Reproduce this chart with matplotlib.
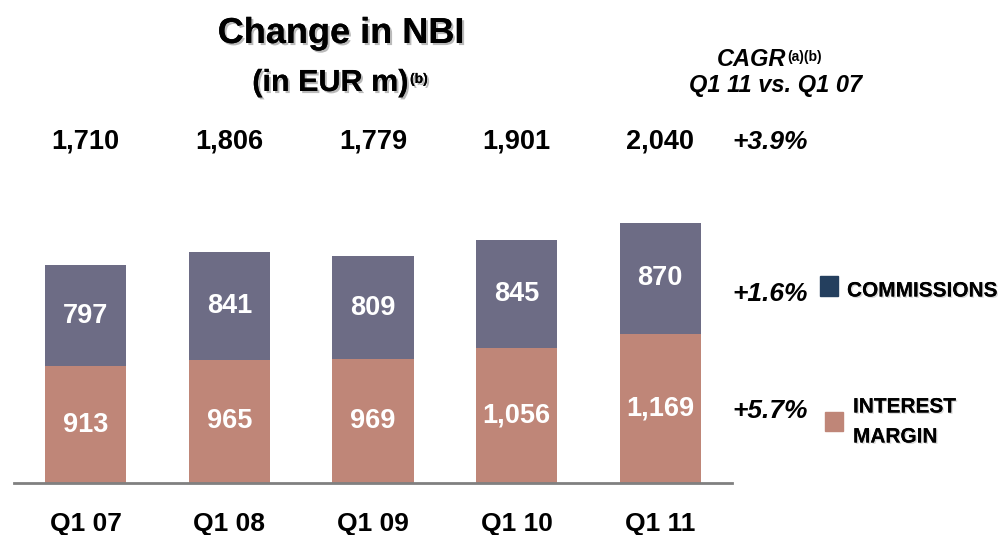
import matplotlib
matplotlib.use("Agg")
import matplotlib.pyplot as plt
import matplotlib.patheffects as pe
from matplotlib.patches import Rectangle

periods = ["Q1 07", "Q1 08", "Q1 09", "Q1 10", "Q1 11"]
interest_margin = [913, 965, 969, 1056, 1169]
commissions = [797, 841, 809, 845, 870]
totals = [1710, 1806, 1779, 1901, 2040]
cagr_total = "+3.9%"
cagr_commissions = "+1.6%"
cagr_interest = "+5.7%"

c_comm = "#6d6c85"
c_int = "#bf8678"
c_comm_legend = "#243f5e"

plt.rcParams["font.family"] = ["Liberation Sans", "DejaVu Sans"]
W, H = 1004, 535
fig = plt.figure(figsize=(W / 100, H / 100), dpi=100)


def fx(x):
    return x / W


def fy(y):
    return 1 - y / H


shadow = [pe.withSimplePatchShadow(offset=(1.5, -1.5), shadow_rgbFace="#777777", alpha=0.5), pe.Normal()]
soft = [pe.withSimplePatchShadow(offset=(1, -1), shadow_rgbFace="#888888", alpha=0.3), pe.Normal()]

# axes: baseline at y=483px, spans x 14..732px
ax = fig.add_axes([fx(14), fy(483), fx(732 - 14), (483 - 100) / H])
ax.set_xlim(-0.5, 4.5)
ax.set_ylim(0, 3000)
for s in ["top", "right", "left"]:
    ax.spines[s].set_visible(False)
ax.spines["bottom"].set_color("#808080")
ax.spines["bottom"].set_linewidth(2)
ax.set_yticks([])

x = range(len(periods))
ax.bar(x, interest_margin, width=0.565, color=c_int)
ax.bar(x, commissions, width=0.565, bottom=interest_margin, color=c_comm)

ax.set_xticks(list(x))
ax.set_xticklabels(periods, fontsize=19, fontweight="bold")
ax.tick_params(axis="x", length=0, pad=21)

for i in x:
    ax.text(i, interest_margin[i] / 2, f"{interest_margin[i]:,}", ha="center", va="center",
            fontsize=19.5, fontweight="bold", color="white")
    ax.text(i, interest_margin[i] + commissions[i] / 2, f"{commissions[i]:,}", ha="center", va="center",
            fontsize=19.5, fontweight="bold", color="white")
    ax.text(i, (483 - 148) / 0.1277, f"{totals[i]:,}", ha="center", va="baseline",
            fontsize=19.5, fontweight="bold", color="black")

# title
fig.text(fx(341), fy(43), "Change in NBI", ha="center", va="baseline", fontsize=26,
         fontweight="bold", path_effects=shadow)
fig.text(fx(408), fy(91), "(in EUR m)", ha="right", va="baseline", fontsize=22,
         fontweight="bold", path_effects=shadow)
fig.text(fx(410), fy(83), "(b)", ha="left", va="baseline", fontsize=10,
         fontweight="bold", path_effects=shadow)

# CAGR header
fig.text(fx(786), fy(66), "CAGR", ha="right", va="baseline", fontsize=17,
         fontweight="bold", style="italic")
fig.text(fx(787), fy(61), "(a)(b)", ha="left", va="baseline", fontsize=10, fontweight="bold")
fig.text(fx(776), fy(92), "Q1 11 vs. Q1 07", ha="center", va="baseline", fontsize=17,
         fontweight="bold", style="italic")

fig.text(fx(770), fy(149), cagr_total, ha="center", va="baseline", fontsize=19,
         fontweight="bold", style="italic")
fig.text(fx(770), fy(301), cagr_commissions, ha="center", va="baseline", fontsize=19,
         fontweight="bold", style="italic")
fig.text(fx(770), fy(418), cagr_interest, ha="center", va="baseline", fontsize=19,
         fontweight="bold", style="italic")

# legend
fig.add_artist(Rectangle((fx(820), fy(296)), fx(18), 20 / H, transform=fig.transFigure,
                         color=c_comm_legend))
fig.text(fx(847), fy(291), "COMMISSIONS", ha="left", va="center", fontsize=15,
         fontweight="bold", path_effects=soft)
fig.add_artist(Rectangle((fx(825), fy(431)), fx(18), 19 / H, transform=fig.transFigure,
                         color=c_int))
fig.text(fx(853), fy(407), "INTEREST", ha="left", va="center", fontsize=15,
         fontweight="bold", path_effects=soft)
fig.text(fx(853), fy(437), "MARGIN", ha="left", va="center", fontsize=15,
         fontweight="bold", path_effects=soft)

fig.savefig("out.png", dpi=100, facecolor="white")
